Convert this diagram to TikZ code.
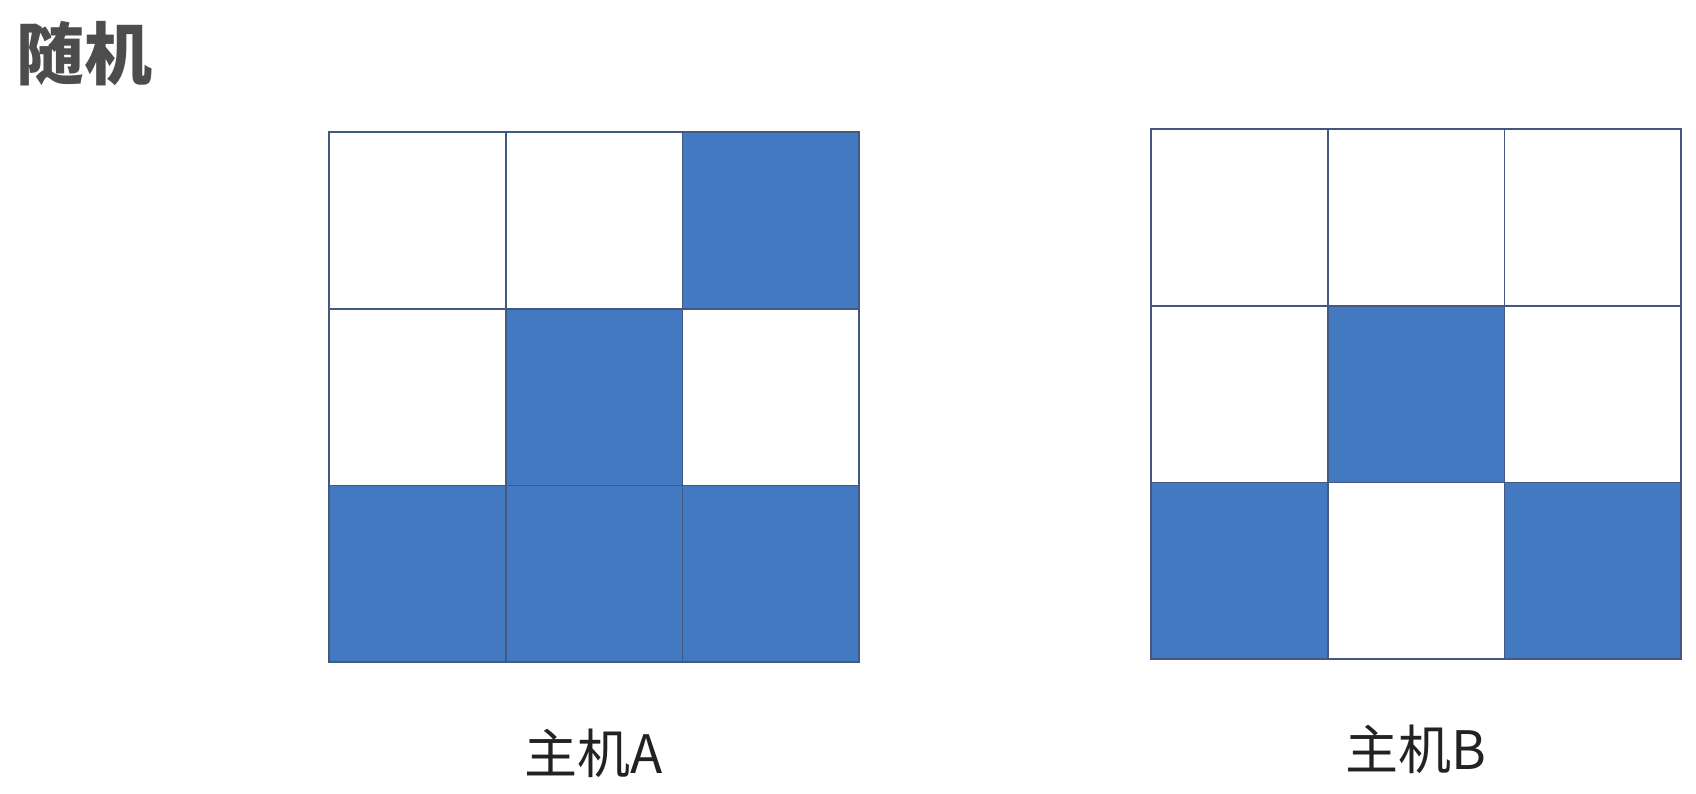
\documentclass[tikz,border=0pt]{standalone}
\usepackage{fontspec}
\usepackage{xcolor}
\newfontfamily\cjk{Noto Sans CJK SC}
\usetikzlibrary{positioning}
\definecolor{cellblue}{HTML}{4379C0}
\definecolor{cellline}{HTML}{44597F}
\definecolor{titlegray}{HTML}{4D4D4D}
\definecolor{labelink}{HTML}{222222}

\begin{document}
\begin{tikzpicture}[
  x=1pt, y=-1pt,
  cell/.style={draw=cellline, line width=1.6pt, minimum size=176.7pt, inner sep=0pt},
  whitecell/.style={fill=white},
  bluecell/.style={fill=cellblue},
  title/.style={font=\cjk\bfseries\fontsize{68}{72}\selectfont, text=titlegray, inner sep=0pt, anchor=west},
  hostlabel/.style={font=\cjk\fontsize{53}{58}\selectfont, text=labelink, inner sep=0pt}
]
\useasboundingbox (0,0) rectangle (1696,794);
\fill[white] (0,0) rectangle (1696,794);

\node[title] (heading) at (16,54) {随机};

% host A grid
\foreach \r/\c/\s in {1/1/whitecell,1/2/whitecell,1/3/bluecell,
                      2/1/whitecell,2/2/bluecell,2/3/whitecell,
                      3/1/bluecell,3/2/bluecell,3/3/bluecell}
  \node[cell,\s] (a\r\c) at ({329+(\c-0.5)*176.7},{132+(\r-0.5)*176.7}) {};

% host B grid
\foreach \r/\c/\s in {1/1/whitecell,1/2/whitecell,1/3/whitecell,
                      2/1/whitecell,2/2/bluecell,2/3/whitecell,
                      3/1/bluecell,3/2/whitecell,3/3/bluecell}
  \node[cell,\s] (b\r\c) at ({1151+(\c-0.5)*176.7},{129+(\r-0.5)*176.7}) {};

\node[hostlabel, below=90pt of a32.south, anchor=center] (hostA) {主机A};
\node[hostlabel, below=89pt of b32.south, anchor=center] (hostB) {主机B};
\end{tikzpicture}
\end{document}
